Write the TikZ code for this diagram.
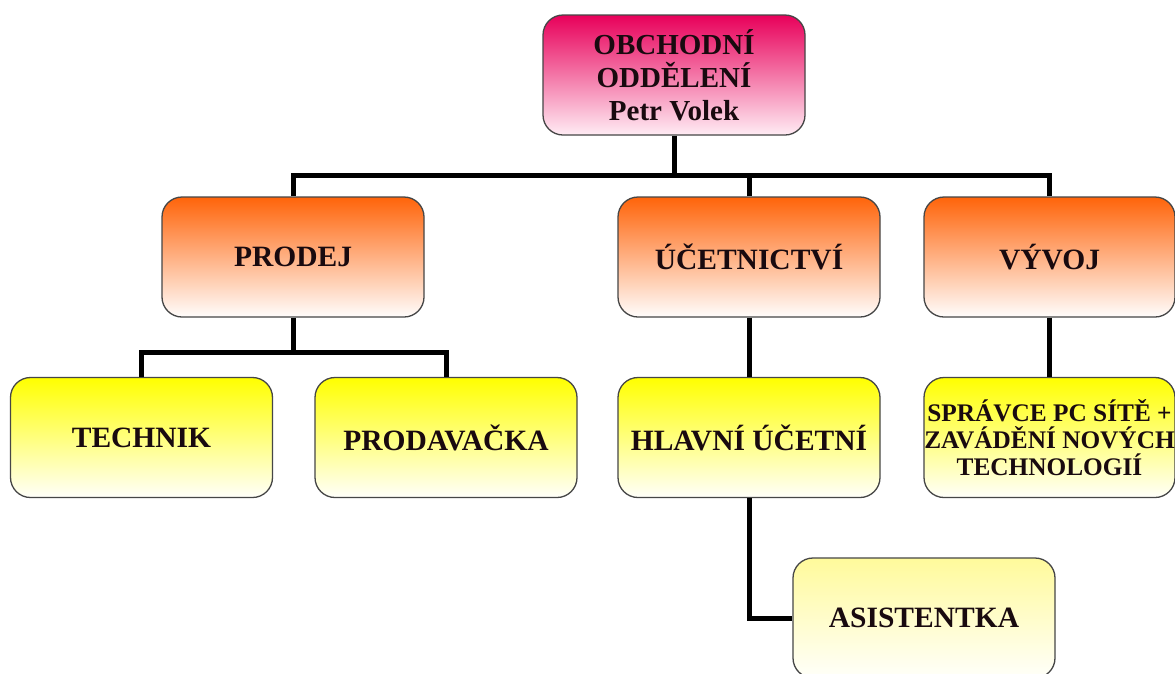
\documentclass[tikz,border=0pt]{standalone}
\usepackage{fontspec}
\setmainfont{Liberation Serif}
\definecolor{pinktop}{RGB}{232,0,90}
\definecolor{pinkmid}{RGB}{248,160,195}
\definecolor{pinkbot}{RGB}{255,236,244}
\definecolor{orangetop}{RGB}{255,100,10}
\definecolor{orangemid}{RGB}{255,195,178}
\definecolor{orangebot}{RGB}{255,253,252}
\definecolor{yellowtop}{RGB}{255,255,0}
\definecolor{yellowmid}{RGB}{255,255,185}
\definecolor{yellowbot}{RGB}{255,255,250}
\definecolor{paletop}{RGB}{255,250,155}
\definecolor{palemid}{RGB}{255,254,215}
\definecolor{boxline}{RGB}{70,70,70}
\definecolor{txt}{RGB}{25,10,15}
\begin{document}
\begin{tikzpicture}[x=1pt,y=-1pt,
  box/.style={draw=boxline, line width=1.3pt, rounded corners=20pt,
    minimum width=262pt, minimum height=120pt, inner sep=0pt, align=center,
    text=txt, font=\bfseries\fontsize{29.5}{33}\selectfont},
  headbox/.style={box, top color=pinktop, middle color=pinkmid, bottom color=pinkbot},
  deptbox/.style={box, top color=orangetop, middle color=orangemid, bottom color=orangebot},
  staffbox/.style={box, top color=yellowtop, middle color=yellowmid, bottom color=yellowbot},
  palebox/.style={box, top color=paletop, middle color=palemid, bottom color=yellowbot},
  conn/.style={line width=5pt, black}]
\useasboundingbox (0,0) rectangle (1175,673);
\clip (0,0) rectangle (1175,673);
\fill[white] (0,0) rectangle (1175,673);

\node[headbox, font=\bfseries\fontsize{29}{33}\selectfont] (head) at (674,75) {OBCHODNÍ\\ODDĚLENÍ\\Petr Volek};

\node[deptbox] (prodej) at (293,257) {PRODEJ};
\node[deptbox] (ucet) at (749,257) {ÚČETNICTVÍ};
\node[deptbox, minimum width=251pt] (vyvoj) at (1049.5,257) {VÝVOJ};

\node[staffbox] (technik) at (141.5,437.5) {TECHNIK};
\node[staffbox] (prodav) at (446,437.5) {PRODAVAČKA};
\node[staffbox] (hlavni) at (749,437.5) {HLAVNÍ ÚČETNÍ};
\node[staffbox, minimum width=251pt, font=\bfseries\fontsize{25.3}{27}\selectfont] (spravce) at (1049.5,437.5) {SPRÁVCE PC SÍTĚ +\\ZAVÁDĚNÍ NOVÝCH\\TECHNOLOGIÍ};
\node[palebox] (asist) at (924,618) {ASISTENTKA};

\coordinate (bus) at (674,175);
\coordinate (bus2) at (293,352);

\draw[conn] (head.south) -- (bus);
\draw[conn] (prodej.north) |- (bus) -| (vyvoj.north);
\draw[conn] (ucet.north) -- (ucet.north |- bus);

\draw[conn] (prodej.south) -- (bus2);
\draw[conn] (technik.north) |- (bus2) -| (prodav.north);

\draw[conn] (ucet.south) -- (hlavni.north);
\draw[conn] (vyvoj.south) -- (spravce.north);
\draw[conn] (hlavni.south) |- (asist.west);
\end{tikzpicture}
\end{document}
